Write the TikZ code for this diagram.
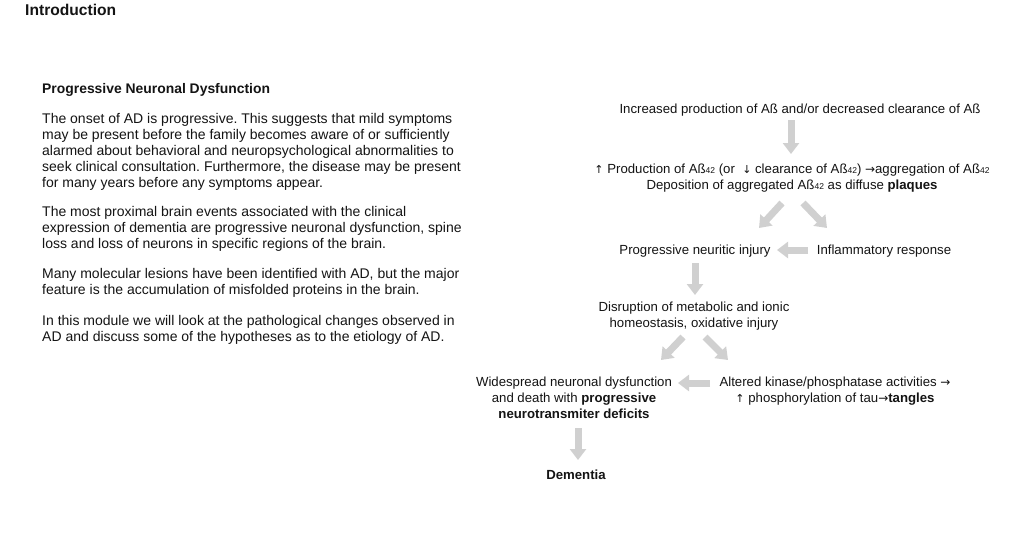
\documentclass[tikz,border=0pt]{standalone}
\usepackage{fontspec}
\setmainfont{Liberation Sans}
\newfontfamily\arrfont{DejaVu Sans}
\usetikzlibrary{arrows.meta}
\definecolor{arrgray}{RGB}{208,208,208}
\definecolor{txtcol}{RGB}{20,20,20}
\frenchspacing
\newcommand{\lowsub}[1]{\raisebox{-0.1ex}{\fontsize{8.5}{8.5}\selectfont #1}}
\newcommand{\uparr}{{\arrfont\fontsize{11}{11}\selectfont ↑}}
\newcommand{\dnarr}{{\arrfont\fontsize{11}{11}\selectfont ↓}}
\newcommand{\rtarr}{{\arrfont\fontsize{12}{12}\selectfont →}}
\begin{document}
\begin{tikzpicture}[x=1pt,y=-1pt,
  body/.style={font=\fontsize{14}{16}\selectfont, inner sep=0pt, text=txtcol},
  para/.style={body, align=left, anchor=north west},
  dtxt/.style={font=\fontsize{13.2}{16}\selectfont, inner sep=0pt, text=txtcol, align=center, anchor=north},
  flow/.style={line width=7pt, draw=arrgray, -{Triangle[width=16pt,length=11pt]}}]
\path[use as bounding box, fill=white] (0,0) rectangle (1014,543);

% left column
\node[font=\fontsize{15.6}{18}\selectfont\bfseries, inner sep=0pt, anchor=base west, text=txtcol] (intro) at (25,15.5) {Introduction};
\node[font=\fontsize{13.9}{16}\selectfont\bfseries, inner sep=0pt, anchor=base west, text=txtcol] (sub) at (42,93) {Progressive Neuronal Dysfunction};
\node[para] (p1) at (42,113) {The onset of AD is progressive. This suggests that mild symptoms\\
may be present before the family becomes aware of or sufficiently\\
alarmed about behavioral and neuropsychological abnormalities to\\
seek clinical consultation. Furthermore, the disease may be present\\
for many years before any symptoms appear.};
\node[para] (p2) at (42,206) {The most proximal brain events associated with the clinical\\
expression of dementia are progressive neuronal dysfunction, spine\\
loss and loss of neurons in specific regions of the brain.};
\node[para] (p3) at (42,268) {Many molecular lesions have been identified with AD, but the major\\
feature is the accumulation of misfolded proteins in the brain.};
\node[para] (p4) at (42,315) {In this module we will look at the pathological changes observed in\\
AD and discuss some of the hypotheses as to the etiology of AD.};

% diagram
\node[dtxt] (n1) at (800,103.5) {Increased production of Aß and/or decreased clearance of Aß};
\node[dtxt] (n2) at (792,163.5) {\uparr{} Production of Aß\lowsub{42} (or~ \dnarr{} clearance of Aß\lowsub{42}) \rtarr{}aggregation of Aß\lowsub{42}\\
Deposition of aggregated Aß\lowsub{42} as diffuse \textbf{plaques}};
\node[dtxt] (n3) at (695,244.5) {Progressive neuritic injury};
\node[dtxt] (n4) at (884,244.5) {Inflammatory response};
\node[dtxt] (n5) at (694,301.5) {Disruption of metabolic and ionic\\ homeostasis, oxidative injury};
\node[dtxt] (n6) at (574,376.5) {Widespread neuronal dysfunction\\ and death with \textbf{progressive}\\ \textbf{neurotransmiter deficits}};
\node[dtxt] (n7) at (835,376.5) {Altered kinase/phosphatase activities \rtarr\\ \uparr{} phosphorylation of tau\rtarr\textbf{tangles}};
\node[dtxt] (n8) at (576,469.5) {\textbf{Dementia}};

% arrow end points
\coordinate (a1s) at (791,120);  \coordinate (a1e) at (791,154);
\coordinate (a2s) at (782,203);  \coordinate (a2e) at (759,228);
\coordinate (a3s) at (803,203);  \coordinate (a3e) at (827,228);
\coordinate (a4s) at (808,250);  \coordinate (a4e) at (777,250);
\coordinate (a5s) at (695,263);  \coordinate (a5e) at (695,295);
\coordinate (a6s) at (683,337);  \coordinate (a6e) at (661,360);
\coordinate (a7s) at (705,337);  \coordinate (a7e) at (728,360);
\coordinate (a8s) at (710,383);  \coordinate (a8e) at (678,383);
\coordinate (a9s) at (578,428);  \coordinate (a9e) at (578,460);

\draw[flow] (a1s) -- (a1e);
\draw[flow] (a2s) -- (a2e);
\draw[flow] (a3s) -- (a3e);
\draw[flow] (a4s) -- (a4e);
\draw[flow] (a5s) -- (a5e);
\draw[flow] (a6s) -- (a6e);
\draw[flow] (a7s) -- (a7e);
\draw[flow] (a8s) -- (a8e);
\draw[flow] (a9s) -- (a9e);
\end{tikzpicture}
\end{document}
